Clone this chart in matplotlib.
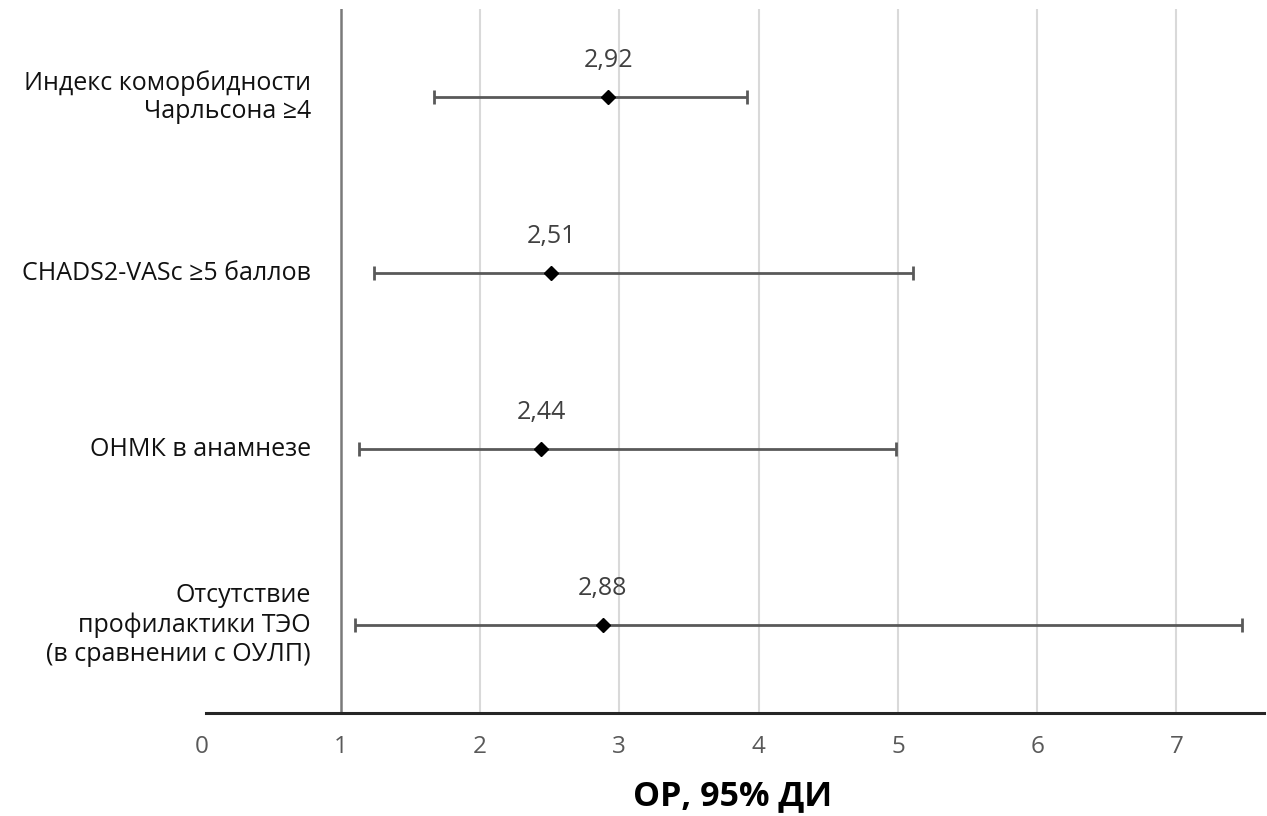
import matplotlib
matplotlib.use("Agg")
import matplotlib.pyplot as plt

plt.rcParams["font.family"] = ["Open Sans", "DejaVu Sans"]

# Data, top to bottom
categories = [
    "Индекс коморбидности\nЧарльсона ≥4",
    "CHADS2-VASc ≥5 баллов",
    "ОНМК в анамнезе",
    "Отсутствие\nпрофилактики ТЭО\n(в сравнении с ОУЛП)",
]
or_values = [2.92, 2.51, 2.44, 2.88]
ci_low = [1.67, 1.24, 1.13, 1.10]
ci_high = [3.92, 5.11, 4.99, 7.47]
value_labels = ["2,92", "2,51", "2,44", "2,88"]
x_ticks = [0, 1, 2, 3, 4, 5, 6, 7]

# category centres from top: 3.5, 2.5, 1.5, 0.5
y_pos = [len(categories) - 0.5 - i for i in range(len(categories))]

fig = plt.figure(figsize=(12.67, 8.16), dpi=100)
ax = fig.add_axes([0.159, 0.1262, 0.8388, 0.8627])

ax.set_xlim(0, 7.63)
ax.set_ylim(0, 4)

# light vertical gridlines
for t in x_ticks[2:]:
    ax.axvline(t, color="#d9d9d9", lw=1.5, zorder=0)

# reference line at OR = 1
ax.axvline(1, color="#7a7a7a", lw=1.8, zorder=1)

# error bars + diamonds
err_lo = [v - lo for v, lo in zip(or_values, ci_low)]
err_hi = [hi - v for v, hi in zip(or_values, ci_high)]
ax.errorbar(
    or_values, y_pos, xerr=[err_lo, err_hi],
    fmt="none", ecolor="#595959", elinewidth=2, capsize=5, capthick=2, zorder=2,
)
ax.plot(or_values, y_pos, "D", color="black", markersize=7.5, zorder=3)

for x, y, lab in zip(or_values, y_pos, value_labels):
    ax.annotate(lab, (x, y), xytext=(0, 26), textcoords="offset points",
                ha="center", va="center", fontsize=18, color="#404040")

# category labels placed inside the plot area, left of the OR=1 line
for y, cat in zip(y_pos, categories):
    ax.text(0.785, y, cat, ha="right", va="center", fontsize=18,
            color="#111111", linespacing=1.2)

# axes styling
for side in ["top", "right", "left"]:
    ax.spines[side].set_visible(False)
ax.spines["bottom"].set_color("#262626")
ax.spines["bottom"].set_linewidth(2.2)
ax.spines["bottom"].set_bounds(0.03, 7.63)

ax.set_yticks([])
ax.set_xticks(x_ticks)
ax.set_xticklabels([str(t) for t in x_ticks])
ax.tick_params(axis="x", length=0, pad=16, labelsize=17.5, labelcolor="#595959")

ax.set_xlabel("ОР, 95% ДИ", fontsize=24.5, fontweight="bold", color="black", labelpad=14)

fig.savefig("out.png", dpi=100)
